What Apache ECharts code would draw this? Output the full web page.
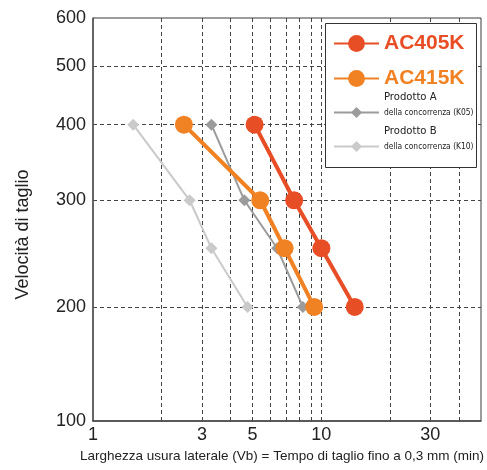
<!DOCTYPE html>
<html>
<head>
<meta charset="utf-8">
<script src="https://cdn.jsdelivr.net/npm/echarts@6/dist/echarts.min.js"></script>
<style>
html,body{margin:0;padding:0;background:#fff;}
#chart{width:487px;height:470px;}
</style>
</head>
<body>
<div id="chart"></div>
<script>
// ---- data ----
const speeds = [400, 300, 250, 200];
const timeAC405K = [5.1, 7.6, 10, 14];
const timeAC415K = [2.5, 5.4, 6.9, 9.3];
const timeProdA = [3.3, 4.6, 6.4, 8.3];
const timeProdB = [1.5, 2.65, 3.3, 4.75];
const xTickLabels = [1, 3, 5, 10, 30];
const xGridValues = [2, 3, 4, 5, 6, 7, 8, 9, 10, 20, 30, 40];
const yTickLabels = ['100', '200', '300', '400', '500', '600'];
const yGridValues = [200, 300, 400, 500];

const yMin = 129.6; // bottom of the compressed axis, labelled "100"
const yLabelValues = [yMin, 200, 300, 400, 500, 600];

function pairs(xs) { return xs.map((x, i) => [x, speeds[i]]); }

const C_RED = '#E84E25', C_ORA = '#F08224', C_GA = '#9b9b9b', C_GB = '#cacaca';
const NARROW = '"DejaVu Sans Condensed", "Liberation Sans", sans-serif';

const chart = echarts.init(document.getElementById('chart'), null, {renderer: 'canvas'});

function legendFor(name, top, rich, fmt, ih) {
  return {
    data: [name], left: 333, top: top, padding: 0,
    itemWidth: 45, itemHeight: ih, z: 30,
    selectedMode: false,
    formatter: fmt,
    textStyle: {rich: rich}
  };
}
const prodRich = {
  t: {fontFamily: NARROW, fontSize: 11.2, color: '#222', lineHeight: 16},
  s: {fontFamily: NARROW, fontSize: 8.4, color: '#222', lineHeight: 14},
  e: {fontSize: 10, lineHeight: 16}
};

const option = {
  animation: false,
  backgroundColor: '#fff',
  grid: {left: 93, right: 6, top: 18, bottom: 49, show: true, borderColor: '#3a3a3a', borderWidth: 1,
    containLabel: false, outerBoundsMode: 'none'},
  xAxis: {
    type: 'log', logBase: 10, min: 1, max: 50,
    name: 'Larghezza usura laterale (Vb) = Tempo di taglio fino a 0,3 mm (min)',
    nameLocation: 'middle', nameGap: 27,
    nameTextStyle: {fontFamily: 'Liberation Sans', fontSize: 13.5, color: '#222', padding: [0, 10, 0, 0]},
    axisLine: {show: true, lineStyle: {color: '#444', width: 1.5}},
    axisTick: {show: false, customValues: xGridValues},
    axisLabel: {customValues: xTickLabels, fontFamily: 'Liberation Sans', fontSize: 18, color: '#222', margin: 5,
      formatter: v => String(Math.round(v))},
    splitLine: {show: true, lineStyle: {color: '#444', type: [4, 3], width: 1}},
    minorTick: {show: false}, minorSplitLine: {show: false}
  },
  yAxis: {
    type: 'log', logBase: 10, min: yMin, max: 600,
    name: 'Velocità di taglio', nameLocation: 'middle', nameRotate: 90, nameGap: 61,
    nameTextStyle: {fontFamily: 'Liberation Sans', fontSize: 18, color: '#222', padding: [0, 30, 0, 0]},
    axisLine: {show: true, lineStyle: {color: '#555', width: 1.5}},
    axisTick: {show: false, customValues: yGridValues},
    axisLabel: {customValues: yLabelValues, fontFamily: 'Liberation Sans', fontSize: 18, color: '#222', margin: 7,
      formatter: v => yTickLabels[yLabelValues.findIndex(t => Math.abs(t - v) < 1)]},
    splitLine: {show: true, lineStyle: {color: '#444', type: [4, 3], width: 1}}
  },
  graphic: [{
    type: 'rect', left: 325, top: 23, z: 20,
    shape: {width: 151, height: 144},
    style: {fill: '#fff', stroke: '#333', lineWidth: 1}
  }],
  legend: [
    legendFor('AC405K', 33, {a: {fontFamily: 'Liberation Sans', fontSize: 21, fontWeight: 'bold', color: C_RED}}, '{a|{name}}', 21),
    legendFor('AC415K', 68, {a: {fontFamily: 'Liberation Sans', fontSize: 21, fontWeight: 'bold', color: C_ORA}}, '{a|{name}}', 21),
    legendFor('Prodotto A', 92, prodRich, '{t|Prodotto A}\n{s|della concorrenza (K05)}\n{e| }', 14),
    legendFor('Prodotto B', 126, prodRich, '{t|Prodotto B}\n{s|della concorrenza (K10)}\n{e| }', 14)
  ],
  series: [
    {name: 'Prodotto B', type: 'line', data: pairs(timeProdB), symbol: 'diamond', symbolSize: 12,
      lineStyle: {color: C_GB, width: 2}, itemStyle: {color: C_GB}, z: 2},
    {name: 'Prodotto A', type: 'line', data: pairs(timeProdA), symbol: 'diamond', symbolSize: 12,
      lineStyle: {color: C_GA, width: 2}, itemStyle: {color: C_GA}, z: 3},
    {name: 'AC415K', type: 'line', data: pairs(timeAC415K), symbol: 'circle', symbolSize: 18,
      lineStyle: {color: C_ORA, width: 4}, itemStyle: {color: C_ORA}, z: 4},
    {name: 'AC405K', type: 'line', data: pairs(timeAC405K), symbol: 'circle', symbolSize: 18,
      lineStyle: {color: C_RED, width: 4}, itemStyle: {color: C_RED}, z: 5}
  ]
};
chart.setOption(option);
</script>
</body>
</html>
